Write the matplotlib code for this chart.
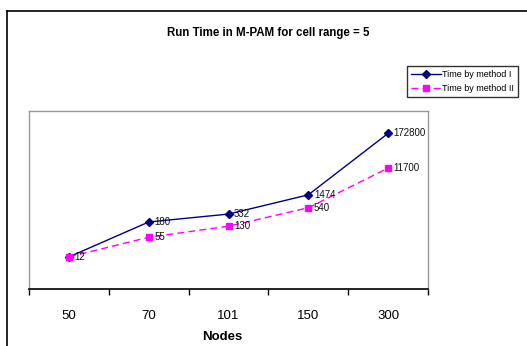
import matplotlib
matplotlib.use("Agg")
import matplotlib.pyplot as plt
from matplotlib.lines import Line2D

nodes = ["50", "70", "101", "150", "300"]
method1 = [12, 180, 332, 1474, 172800]
method2 = [12, 55, 130, 540, 11700]
labels1 = ["12", "180", "332", "1474", "172800"]
labels2 = ["", "55", "130", "540", "11700"]

plt.rcParams["font.family"] = ["Liberation Sans", "DejaVu Sans"]

W, H = 527, 346
fig = plt.figure(figsize=(W / 100, H / 100), dpi=100)

def fx(px):
    return px / W

def fy(py):
    return 1 - py / H

# outer chart border
fig.add_artist(Line2D([fx(7), fx(7)], [0, fy(11)], color="black", lw=1.2, transform=fig.transFigure))
fig.add_artist(Line2D([fx(7), 1], [fy(11), fy(11)], color="black", lw=1.2, transform=fig.transFigure))

ax = fig.add_axes([fx(29), fy(289), fx(428) - fx(29), fy(110.7) - fy(289)])
x = list(range(len(nodes)))
l1, = ax.plot(x, method1, color="#000080", lw=1.0, marker="D", ms=4, label="Time by method I")
l2, = ax.plot(x, method2, color="#FF00FF", lw=1.0, ls=(0, (5, 3)), marker="s", ms=5,
              label="Time by method II")
ax.set_yscale("log")
ax.set_ylim(1, 1e6)
ax.set_xlim(-0.5, len(nodes) - 0.5)

for xi, v, t in zip(x, method1, labels1):
    ax.annotate(t, (xi, v), xytext=(4, 0), textcoords="offset points", va="center", ha="left",
                fontsize=7, color="#111111")
for xi, v, t in zip(x, method2, labels2):
    if t:
        ax.annotate(t, (xi, v), xytext=(4, 0), textcoords="offset points", va="center", ha="left",
                    fontsize=7, color="#111111")

ax.set_yticks([])
ax.yaxis.set_minor_locator(matplotlib.ticker.NullLocator())
ax.set_xticks([i - 0.5 for i in range(len(nodes) + 1)])
ax.set_xticklabels([])
ax.set_xticks(x, minor=True)
ax.set_xticklabels(nodes, minor=True, fontsize=9.5)
ax.tick_params(axis="x", which="major", direction="out", length=4, width=1, color="black")
ax.tick_params(axis="x", which="minor", length=0, pad=15)
for s in ["top", "right", "left"]:
    ax.spines[s].set_color("#999999")
    ax.spines[s].set_linewidth(1.0)
ax.spines["bottom"].set_color("black")
ax.spines["bottom"].set_linewidth(1.2)

fig.text(fx(268), fy(33), "Run Time in M-PAM for cell range = 5", ha="center", va="center",
         fontsize=8.3, fontweight="bold")
fig.text(fx(222), fy(337), "Nodes", ha="center", va="center", fontsize=9.5, fontweight="bold")

leg = fig.legend(handles=[l1, l2], loc="upper left", bbox_to_anchor=(fx(407), fy(66)),
                 bbox_transform=fig.transFigure, fontsize=6.5, frameon=True, fancybox=False,
                 edgecolor="black", handlelength=3.3, handletextpad=0.15, borderpad=0.45,
                 labelspacing=0.55, borderaxespad=0, handleheight=0.7)
leg.get_frame().set_linewidth(1.0)

fig.savefig("out.png", dpi=100)
